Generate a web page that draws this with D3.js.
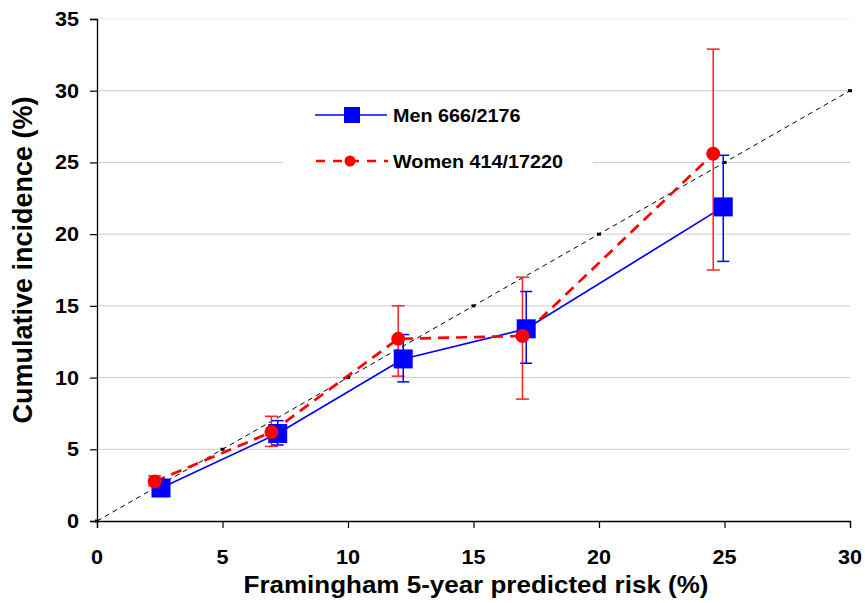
<!DOCTYPE html>
<html>
<head>
<meta charset="utf-8">
<script src="https://cdn.jsdelivr.net/npm/d3@7"></script>
<style>
  html, body { margin: 0; padding: 0; background: #fff; }
  svg { display: block; }
  text { font-family: "Liberation Sans", Arial, sans-serif; font-weight: bold; fill: #000; }
</style>
</head>
<body>
<svg id="chart" width="865" height="603"></svg>
<script>
// Calibration: observed cumulative incidence vs Framingham predicted risk
const xTicks = [0, 5, 10, 15, 20, 25, 30];
const yTicks = [0, 5, 10, 15, 20, 25, 30, 35];
const identityPoints = [0, 5, 10, 15, 20, 25, 30];

const menLabel = "Men 666/2176";
const menRisk = [2.55, 7.2, 12.2, 17.1, 24.95];
const menIncidence = [2.3, 6.1, 11.3, 13.4, 21.9];
const menLower = [1.9, 5.3, 9.7, 11.0, 18.1];
const menUpper = [2.7, 7.0, 13.0, 16.0, 25.5];

const womenLabel = "Women 414/17220";
const womenRisk = [2.3, 6.95, 12.0, 16.95, 24.55];
const womenIncidence = [2.75, 6.2, 12.7, 12.9, 25.6];
const womenLower = [2.45, 5.2, 10.1, 8.5, 17.5];
const womenUpper = [3.15, 7.3, 15.0, 17.0, 32.9];

const xTitle = "Framingham 5-year predicted risk (%)";
const yTitle = "Cumulative incidence (%)";

const svg = d3.select("#chart");
const x = d3.scaleLinear().domain([0, 30]).range([97, 850]);
const y = d3.scaleLinear().domain([0, 35]).range([521, 19]);

// text helper: slightly wide lettering
function label(g, str, px, py, size, anchor, sx = 1.1) {
  return g.append("text")
    .attr("transform", `translate(${px},${py}) scale(${sx},1)`)
    .attr("text-anchor", anchor)
    .style("font-size", size + "px")
    .text(str);
}

// horizontal gridlines
svg.append("g").selectAll("line")
  .data(yTicks.filter(d => d > 0))
  .join("line")
  .attr("x1", x(0)).attr("x2", x(30))
  .attr("y1", d => y(d)).attr("y2", d => y(d))
  .attr("stroke", d => d === 35 ? "#ebebeb" : "#cccccc")
  .attr("stroke-width", 1);

// legend background box hides the gridline behind it
svg.append("rect")
  .attr("x", 283).attr("y", 95).attr("width", 310).attr("height", 100)
  .attr("fill", "#fff");

// axes
const xAxis = svg.append("g")
  .attr("transform", `translate(0,${y(0)})`)
  .call(d3.axisBottom(x).tickValues(xTicks).tickSize(7).tickFormat(""));
const yAxis = svg.append("g")
  .attr("transform", `translate(${x(0)},0)`)
  .call(d3.axisLeft(y).tickValues(yTicks).tickSize(7).tickFormat(""));
[xAxis, yAxis].forEach(a => {
  a.select(".domain").attr("stroke", "#000").attr("stroke-width", 1.3);
  a.selectAll(".tick line").attr("stroke", "#000").attr("stroke-width", 1.2);
});

// tick labels
xTicks.forEach(t => label(svg, String(t), x(t), 564, 20, "middle", 1.08));
yTicks.forEach(t => label(svg, String(t), 79, y(t) + 7, 20, "end", 1.08));

// axis titles
label(svg, xTitle, 476, 593, 23, "middle", 1.13);
svg.append("text")
  .attr("transform", `translate(32,260) rotate(-90)`)
  .attr("text-anchor", "middle")
  .style("font-size", "27px")
  .text(yTitle);

// identity (perfect calibration) line
svg.append("path")
  .datum(identityPoints)
  .attr("d", d3.line().x(d => x(d)).y(d => y(d)))
  .attr("fill", "none")
  .attr("stroke", "#000")
  .attr("stroke-width", 1)
  .attr("stroke-dasharray", "5,4");
svg.append("g").selectAll("rect")
  .data(identityPoints)
  .join("rect")
  .attr("x", d => x(d) - 2).attr("y", d => y(d) - 1.5)
  .attr("width", 4).attr("height", 3)
  .attr("fill", "#000");

const men = menRisk.map((r, i) => ({ r, v: menIncidence[i], lo: menLower[i], hi: menUpper[i] }));
const women = womenRisk.map((r, i) => ({ r, v: womenIncidence[i], lo: womenLower[i], hi: womenUpper[i] }));
const line = d3.line().x(d => x(d.r)).y(d => y(d.v));

// series lines
svg.append("path").datum(men)
  .attr("d", line).attr("fill", "none")
  .attr("stroke", "#0000ff").attr("stroke-width", 1.7);
svg.append("path").datum(women)
  .attr("d", line).attr("fill", "none")
  .attr("stroke", "#ff0000").attr("stroke-width", 2.7)
  .attr("stroke-dasharray", "11,7");

// error bars
function errorBars(data, color, cap) {
  const g = svg.append("g").attr("stroke", color).attr("stroke-width", 1.5);
  g.selectAll(".stem").data(data).join("line")
    .attr("x1", d => x(d.r)).attr("x2", d => x(d.r))
    .attr("y1", d => y(d.lo)).attr("y2", d => y(d.hi));
  g.selectAll(".lo").data(data).join("line")
    .attr("x1", d => x(d.r) - cap / 2).attr("x2", d => x(d.r) + cap / 2)
    .attr("y1", d => y(d.lo)).attr("y2", d => y(d.lo));
  g.selectAll(".hi").data(data).join("line")
    .attr("x1", d => x(d.r) - cap / 2).attr("x2", d => x(d.r) + cap / 2)
    .attr("y1", d => y(d.hi)).attr("y2", d => y(d.hi));
}
errorBars(women, "#ff2020", 13);
errorBars(men, "#0000ff", 12);

// markers
svg.append("g").selectAll("rect").data(men).join("rect")
  .attr("x", d => x(d.r) - 9.5).attr("y", d => y(d.v) - 9.5)
  .attr("width", 19).attr("height", 19)
  .attr("fill", "#0000ff");
svg.append("g").selectAll("circle").data(women).join("circle")
  .attr("cx", d => x(d.r)).attr("cy", d => y(d.v)).attr("r", 7)
  .attr("fill", "#ff0000");

// legend
const lg = svg.append("g");
lg.append("line").attr("x1", 315).attr("x2", 387).attr("y1", 115).attr("y2", 115)
  .attr("stroke", "#0000ff").attr("stroke-width", 1.7);
lg.append("rect").attr("x", 344).attr("y", 107).attr("width", 16).attr("height", 16)
  .attr("fill", "#0000ff");
label(lg, menLabel, 393, 122, 18, "start", 1.1);

lg.append("line").attr("x1", 316).attr("x2", 388).attr("y1", 161).attr("y2", 161)
  .attr("stroke", "#ff0000").attr("stroke-width", 2.7)
  .attr("stroke-dasharray", "9,8");
lg.append("circle").attr("cx", 350).attr("cy", 161).attr("r", 5.5)
  .attr("fill", "#ff0000");
label(lg, womenLabel, 393, 168, 18, "start", 1.1);
</script>
</body>
</html>
